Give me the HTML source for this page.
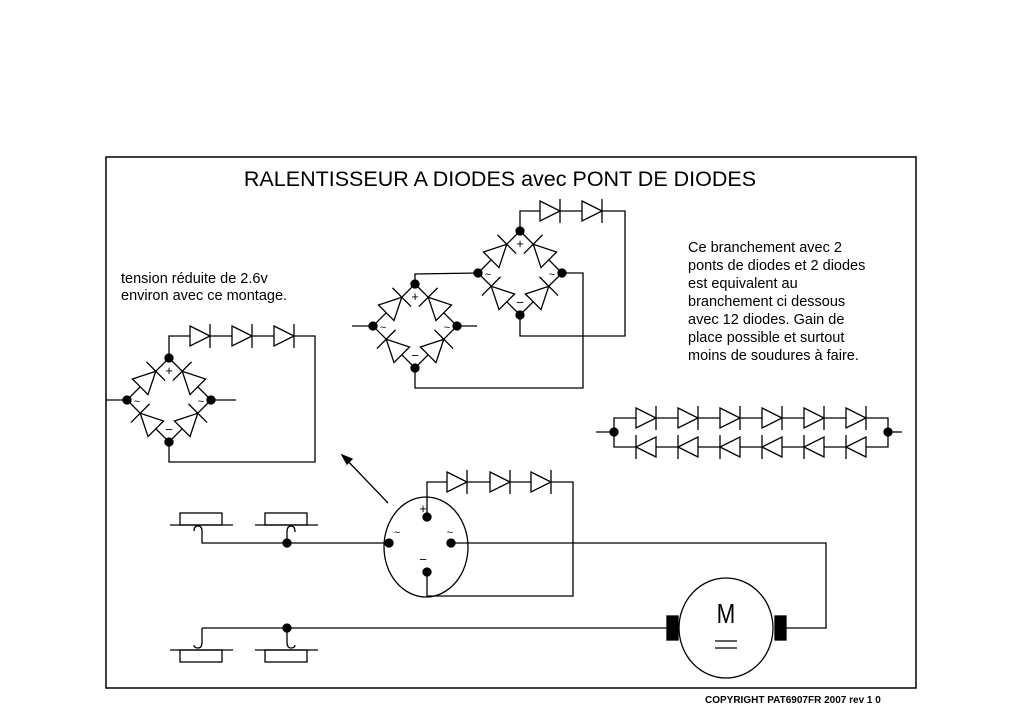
<!DOCTYPE html>
<html><head><meta charset="utf-8"><style>
body{margin:0;background:#fff}
svg{display:block}
text{font-family:"Liberation Sans",sans-serif;fill:#000}
</style></head><body>
<svg id="s" width="1024" height="724" viewBox="0 0 1024 724" xmlns="http://www.w3.org/2000/svg" stroke="#000" stroke-width="1.3" fill="none">
<rect x="106" y="157" width="810" height="531" stroke-width="1.5"/>
<text x="500" y="186" text-anchor="middle" font-size="21.5" stroke="none">RALENTISSEUR A DIODES avec  PONT DE DIODES</text>
<g stroke="none" font-size="14.5">
<text x="121" y="283">tension réduite de 2.6v</text>
<text x="121" y="300">environ avec ce montage.</text>
<text x="688" y="252">Ce branchement avec 2</text>
<text x="688" y="270">ponts de diodes et 2 diodes</text>
<text x="688" y="288">est equivalent au</text>
<text x="688" y="306">branchement ci dessous</text>
<text x="688" y="324">avec 12  diodes. Gain de</text>
<text x="688" y="342">place possible et surtout</text>
<text x="688" y="360">moins de soudures à faire.</text>
<text x="705" y="703" font-family="Liberation Mono" font-size="10" font-weight="bold">COPYRIGHT PAT6907FR 2007 rev 1 0</text>
</g>
<g id="w">
<polyline points="169,358 169,336 315,336 315,462 169,462 169,442"/>
<line x1="106" y1="400" x2="127" y2="400"/><line x1="211" y1="400" x2="236" y2="400"/>
<polyline points="415,284 415,274 478,273"/>
<polyline points="520,232 520,211 625,211 625,336 520,336 520,314"/>
<polyline points="562,273 583,273 583,388 415,388 415,368"/>
<line x1="352" y1="326" x2="373" y2="326"/><line x1="457" y1="326" x2="477" y2="326"/>
<line x1="388" y1="503" x2="342" y2="455"/>
<polygon points="342,455 352,459 347,464" fill="#000"/>
<ellipse cx="426" cy="547" rx="42" ry="50"/>
<polyline points="427,517 427,482 573,482 573,596 427,596 427,572"/>
<polyline points="451,543 826,543 826,628 786,628"/>
<polyline points="202,531 202,543 389,543"/>
<path d="M202,531 q0,-5 -4,-5 q-4,0 -4,5"/>
<rect x="180" y="513" width="42" height="12"/><line x1="170" y1="525" x2="233" y2="525"/>
<rect x="265" y="513" width="42" height="12"/><line x1="255" y1="525" x2="318" y2="525"/>
<rect x="180" y="650" width="42" height="12"/><line x1="170" y1="650" x2="233" y2="650"/>
<rect x="265" y="650" width="42" height="12"/><line x1="255" y1="650" x2="318" y2="650"/>
<path d="M287,543 L287,532 q0,-6 4,-6 q4,0 4,6"/>
<path d="M202,628 L202,642 q0,6 -4,6 q-4,0 -4,-3"/>
<polyline points="202,628 668,628"/>
<path d="M287,628 L287,642 q0,6 4,6 q4,0 4,-3"/>
<ellipse cx="726" cy="628" rx="47" ry="50"/>
<rect x="667" y="616" width="11" height="24" fill="#000"/>
<rect x="775" y="616" width="11" height="24" fill="#000"/>
<line x1="715" y1="641" x2="737" y2="641"/><line x1="715" y1="648" x2="737" y2="648"/>
<polyline points="614,432 614,418 888,418 888,432"/>
<polyline points="614,432 614,447 888,447 888,432"/>
<line x1="596" y1="432" x2="614" y2="432"/><line x1="888" y1="432" x2="902" y2="432"/>
</g>
<text x="726" y="623" text-anchor="middle" font-size="28" stroke="none" font-weight="normal" transform="translate(726,0) scale(0.8,1) translate(-726,0)">M</text>
<g id="d"></g>
</svg>
<script>
var ns="http://www.w3.org/2000/svg",g=document.getElementById('d');
function el(t,a){var e=document.createElementNS(ns,t);for(var k in a)e.setAttribute(k,a[k]);g.appendChild(e);return e;}
function diode(cx,cy,ang,h){var gg=el('g',{transform:'translate('+cx+','+cy+') rotate('+ang+')'});
 var p=document.createElementNS(ns,'polygon');p.setAttribute('points',(-h)+','+(-h)+' '+h+',0 '+(-h)+','+h);p.setAttribute('fill','#fff');gg.appendChild(p);
 var l=document.createElementNS(ns,'line');l.setAttribute('x1',h);l.setAttribute('y1',-h*1.2);l.setAttribute('x2',h);l.setAttribute('y2',h*1.2);gg.appendChild(l);}
function dot(x,y){el('circle',{cx:x,cy:y,r:4,fill:'#000'});}
function txt(x,y,s,fs){var t=el('text',{x:x,y:y,'font-size':fs||12,stroke:'none','text-anchor':'middle'});t.textContent=s;}
function bridge(cx,cy){var R=42;
 el('polygon',{points:cx+','+(cy-R)+' '+(cx+R)+','+cy+' '+cx+','+(cy+R)+' '+(cx-R)+','+cy});
 diode(cx-21,cy-21,-45,11);diode(cx+21,cy-21,-135,11);diode(cx-21,cy+21,-135,11);diode(cx+21,cy+21,-45,11);
 dot(cx,cy-R);dot(cx-R,cy);dot(cx+R,cy);dot(cx,cy+R);
 txt(cx,cy-R+17,'+',13);txt(cx-R+10,cy+5,'~',11);txt(cx+R-10,cy+5,'~',11);txt(cx,cy+R-8,'−',13);}
bridge(169,400);bridge(415,326);bridge(520,273);
[200,242,284].forEach(function(x){diode(x,336,0,10);});
[550,592].forEach(function(x){diode(x,211,0,10);});
[457,500,541].forEach(function(x){diode(x,482,0,10);});
for(var i=0;i<6;i++){diode(646+i*42,418,0,10);diode(646+i*42,447,180,10);}
dot(614,432);dot(888,432);
dot(427,517);dot(389,543);dot(451,543);dot(427,572);dot(287,543);dot(287,628);
txt(423,513,'+',13);txt(397,536,'~',11);txt(450,536,'~',11);txt(423,564,'−',13);
</script>
</body></html>
